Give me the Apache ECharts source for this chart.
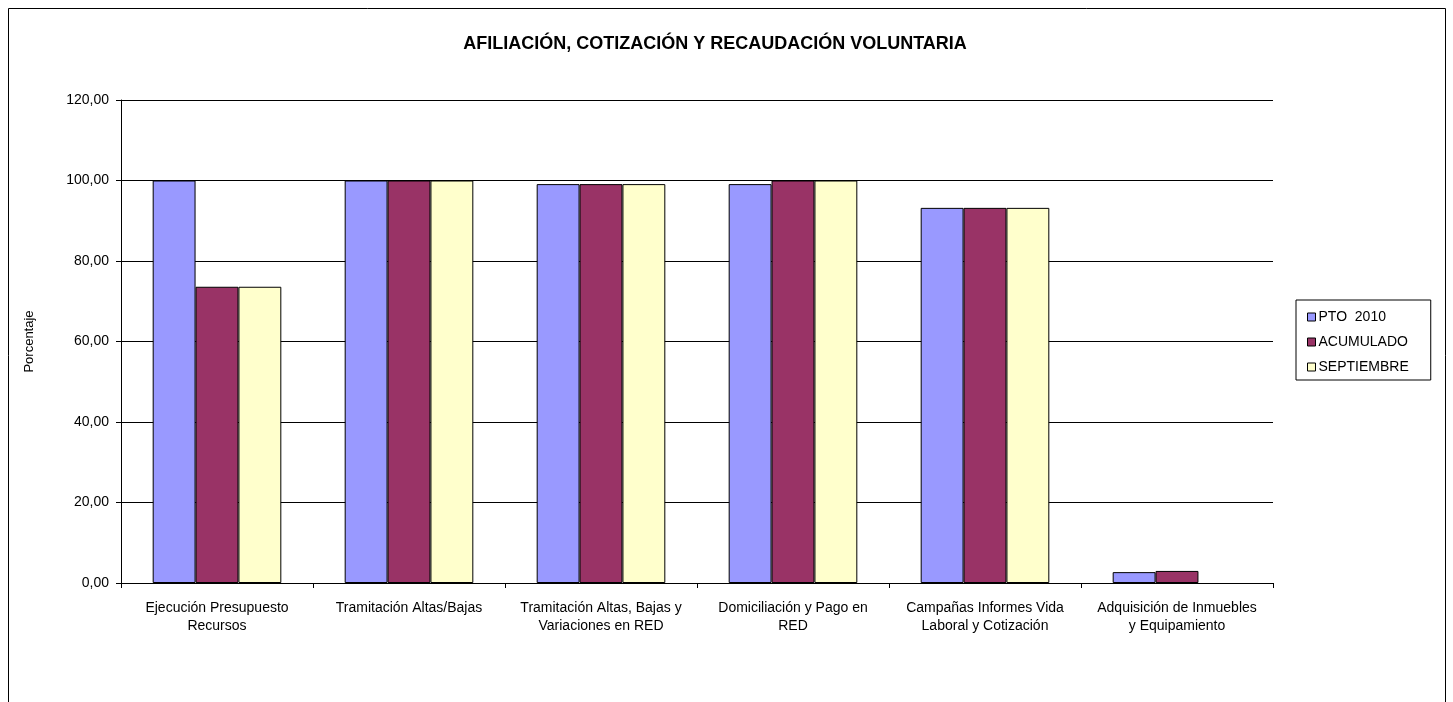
<!DOCTYPE html>
<html>
<head>
<meta charset="utf-8">
<script src="https://cdn.jsdelivr.net/npm/echarts@6/dist/echarts.min.js"></script>
<style>
    html, body { margin: 0; padding: 0; background: #fff; }
    #chart { width: 1453px; height: 702px; }
</style>
</head>
<body>
<div id="chart"></div>
<script>
    var categories = [
        'Ejecución Presupuesto\nRecursos',
        'Tramitación Altas/Bajas',
        'Tramitación Altas, Bajas y\nVariaciones en RED',
        'Domiciliación y Pago en\nRED',
        'Campañas Informes Vida\nLaboral y Cotización',
        'Adquisición de Inmuebles\ny Equipamiento'
    ];
    var seriesNames = ['PTO  2010', 'ACUMULADO', 'SEPTIEMBRE'];
    var pto2010 = [100, 100, 99.1, 99.1, 93.2, 2.7];
    var acumulado = [73.6, 100, 99.1, 100, 93.2, 3.0];
    var septiembre = [73.6, 100, 99.1, 100, 93.2, null];
    var colors = ['#9999FF', '#993366', '#FFFFCC'];

    var font = 'Liberation Sans, Arial, sans-serif';

    function makeSeries(name, values, color) {
        return {
            name: name,
            type: 'bar',
            data: values,
            barGap: '0%',
            barCategoryGap: '33%',
            itemStyle: { color: color, borderColor: '#000', borderWidth: 1 }
        };
    }

    var option = {
        animation: false,
        textStyle: { fontFamily: font },
        title: {
            text: 'AFILIACIÓN, COTIZACIÓN Y RECAUDACIÓN VOLUNTARIA',
            left: 710, top: 30, textAlign: 'center',
            textStyle: { fontSize: 18, fontWeight: 'bold', color: '#000', fontFamily: font }
        },
        graphic: [{
            type: 'rect',
            shape: { x: 8.5, y: 8.5, width: 1437, height: 720 },
            style: { fill: 'none', stroke: '#000', lineWidth: 1 },
            silent: true
        }],
        legend: {
            orient: 'vertical',
            left: 1296, top: 300,
            data: seriesNames,
            icon: 'rect',
            borderColor: '#000', borderWidth: 1,
            padding: [10, 22, 6, 11],
            itemWidth: 8, itemHeight: 8, itemGap: 11,
            itemStyle: { borderColor: '#000', borderWidth: 1 },
            textStyle: { fontSize: 14, color: '#000', fontFamily: font, padding: [0, 0, 0, -2] }
        },
        grid: { left: 121, right: 180, top: 100, bottom: 119 },
        xAxis: {
            type: 'category',
            data: categories,
            axisLine: { lineStyle: { color: '#000', width: 1 } },
            axisTick: { show: true, length: 5, lineStyle: { color: '#000' } },
            axisLabel: { color: '#000', fontSize: 14, lineHeight: 18, margin: 16, interval: 0 }
        },
        yAxis: {
            type: 'value',
            min: 0, max: 120, interval: 20,
            name: 'Porcentaje',
            nameLocation: 'middle',
            nameGap: 85,
            nameTextStyle: { color: '#000', fontSize: 13, fontFamily: font },
            axisLine: { show: true, lineStyle: { color: '#000', width: 1 } },
            axisTick: { show: true, length: 5, lineStyle: { color: '#000' } },
            splitLine: { show: true, lineStyle: { color: '#000', width: 1 } },
            axisLabel: {
                color: '#000', fontSize: 14, margin: 12,
                formatter: function (v) { return v.toFixed(2).replace('.', ','); }
            }
        },
        series: [
            makeSeries(seriesNames[0], pto2010, colors[0]),
            makeSeries(seriesNames[1], acumulado, colors[1]),
            makeSeries(seriesNames[2], septiembre, colors[2])
        ]
    };

    var myChart = echarts.init(document.getElementById('chart'));
    myChart.setOption(option);
</script>
</body>
</html>
